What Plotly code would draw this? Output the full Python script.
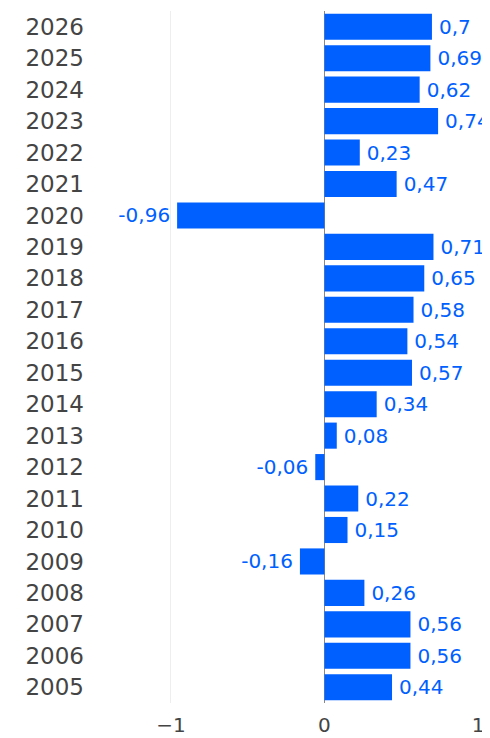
import plotly.graph_objects as go

years = [str(y) for y in range(2005, 2027)]
values = [0.44, 0.56, 0.56, 0.26, -0.16, 0.15, 0.22, -0.06, 0.08, 0.34,
          0.57, 0.54, 0.58, 0.65, 0.71, -0.96, 0.47, 0.23, 0.74, 0.62, 0.69, 0.7]
THIN = "\u2009"
labels = [(THIN + f"{v}".replace(".", ",")) if v >= 0 else (f"{v}".replace(".", ",") + THIN)
          for v in values]

BLUE = "#0060FF"

fig = go.Figure(go.Bar(
    x=values, y=years, orientation="h",
    marker=dict(color=BLUE, line=dict(width=0)),
    text=labels, textposition="outside",
    textfont=dict(color=BLUE, size=20, family="DejaVu Sans"),
    cliponaxis=False,
))

fig.update_layout(
    width=490, height=738,
    margin=dict(l=77, r=20, t=3, b=43),
    plot_bgcolor="white", paper_bgcolor="white",
    bargap=0.17,
    font=dict(family="DejaVu Sans", color="#444"),
    showlegend=False,
)
fig.update_xaxes(range=[-1.56, 1.0], tickvals=[-1, 0, 1], automargin=False,
                 ticklabelstandoff=8,
                 showgrid=True, gridcolor="#eeeeee", gridwidth=1,
                 zeroline=True, zerolinecolor="#888888", zerolinewidth=1,
                 tickfont=dict(size=20, color="#444"), showline=False)
fig.update_yaxes(type="category", categoryorder="array", categoryarray=years,
                 automargin=False,
                 tickfont=dict(size=23, color="#444"), showgrid=False,
                 showline=False)

fig.write_html("out.html",
               post_script="document.documentElement.style.overflow='hidden';"
                           "document.body.style.overflow='hidden';")
